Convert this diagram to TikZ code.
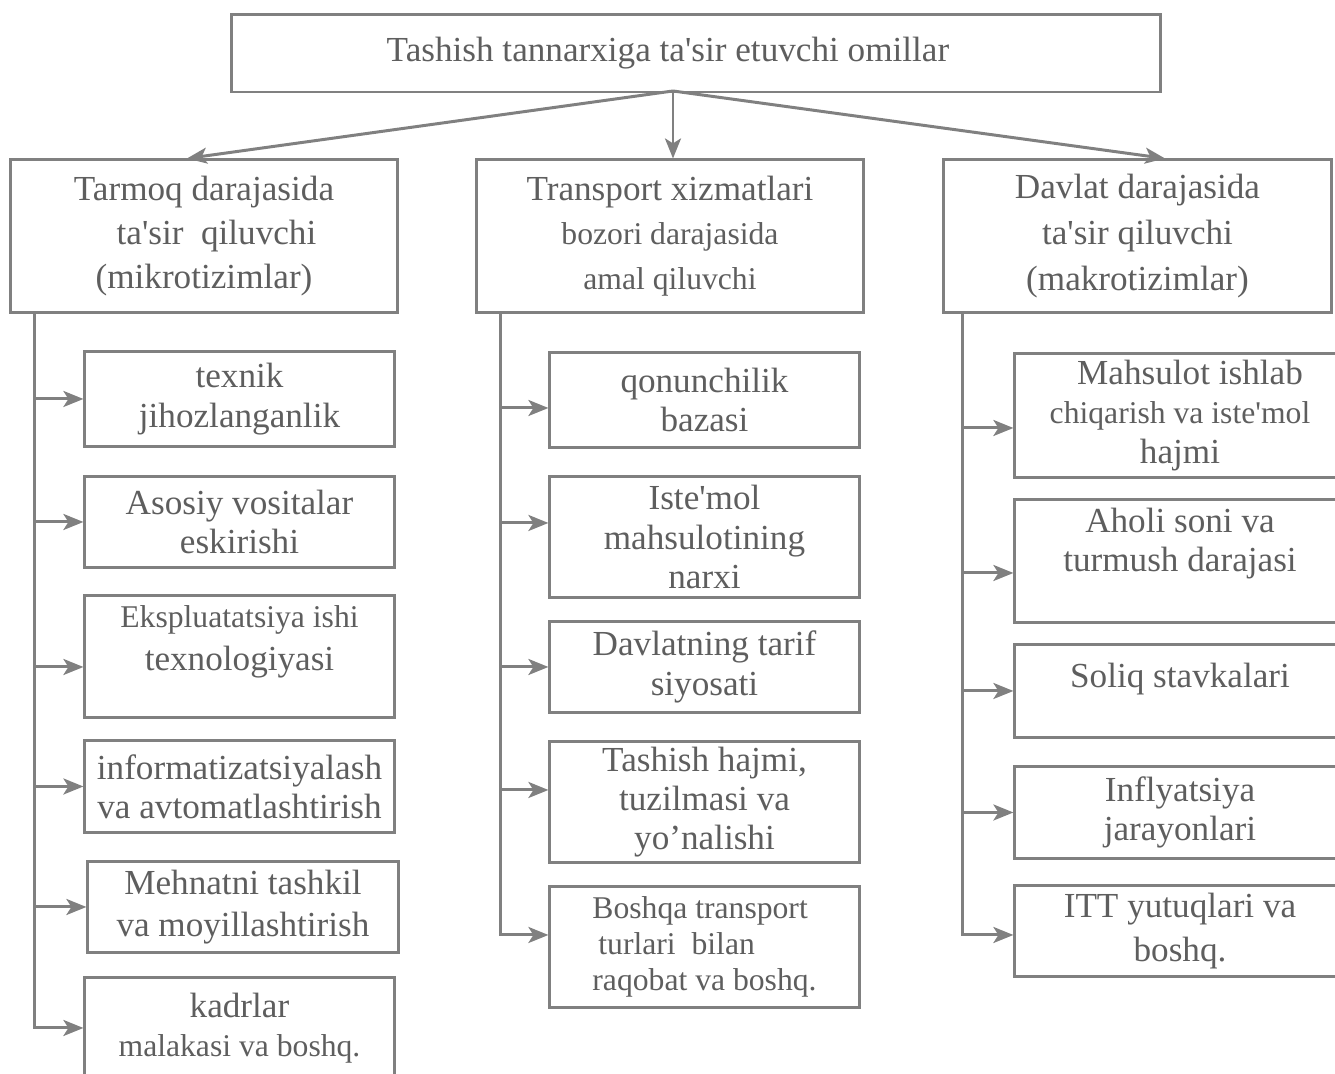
\documentclass[tikz,border=0pt]{standalone}
\usepackage{fontspec}
\setmainfont{Liberation Serif}
\usepackage{tikz}
\usetikzlibrary{arrows.meta}

\definecolor{linegray}{HTML}{808080}
\definecolor{textgray}{HTML}{5E5E5E}

\tikzset{
	box/.style={draw=linegray, line width=0.85pt, rectangle, align=center, text=textgray, inner sep=1pt},
	headbox/.style={box, minimum width=3.87cm, minimum height=1.52cm, font=\fontsize{10}{12.6}\selectfont},
	itembox/.style={box, font=\fontsize{10}{11.2}\selectfont},
	link/.style={linegray, line width=0.85pt, -{Stealth[length=2mm,width=1.6mm,inset=0.5mm]}}
}

\begin{document}
\begin{tikzpicture}[x=0.01cm, y=-0.01cm]
		\useasboundingbox (0,0) rectangle (1335,1074);
		% top
		\node[box, minimum width=9.28cm, minimum height=0.77cm, font=\fontsize{10}{12}\selectfont] (top) at (696,53.5) {Tashish tannarxiga ta\textquotesingle sir etuvchi omillar\hspace{0.56cm}};
		\coordinate (src) at (673,91);
		% three levels
		\node[headbox] (L) at (204,236) {Tarmoq darajasida\\ \hspace{0.25cm}ta\textquotesingle sir\ \ qiluvchi\\ (mikrotizimlar)};
		\node[headbox] (M) at (670,236) {Transport xizmatlari\\ {\fontsize{9}{12.6}\selectfont bozori darajasida}\\ {\fontsize{9}{12.6}\selectfont amal qiluvchi}};
		\node[headbox, font=\fontsize{10}{13.2}\selectfont] (R) at (1137.5,236) {Davlat darajasida\\ ta\textquotesingle sir qiluvchi\\ (makrotizimlar)};
		\draw[link] (src) -- ([xshift=-0.17cm]L.north);
		\draw[link] (src) -- (src |- M.north);
		\draw[link] (src) -- ([xshift=0.275cm]R.north);
		% left column
		\node[itembox, minimum width=3.09cm, minimum height=0.94cm] (l1) at (239.5,399) {texnik\\ jihozlanganlik};
		\node[itembox, minimum width=3.09cm, minimum height=0.90cm] (l2) at (239.5,522) {Asosiy vositalar\\ eskirishi};
		\node[itembox, minimum width=3.09cm, minimum height=1.21cm, text depth=0.37cm, font=\fontsize{10}{12}\selectfont] (l3) at (239.5,656.5) {{\fontsize{9}{12}\selectfont Ekspluatatsiya ishi}\\ texnologiyasi};
		\node[itembox, minimum width=3.09cm, minimum height=0.91cm] (l4) at (239.5,786.5) {informatizatsiyalash\\ va avtomatlashtirish};
		\node[itembox, minimum width=3.10cm, minimum height=0.90cm, font=\fontsize{10}{12}\selectfont] (l5) at (243,907) {Mehnatni tashkil\\ va moyillashtirish};
		\node[itembox, minimum width=3.09cm, minimum height=1.00cm] (l6) at (239.5,1028) {kadrlar\\ {\fontsize{9}{11.2}\selectfont malakasi va boshq.}};
		\coordinate (tl) at ([xshift=0.26cm]L.south west);
		\draw[link] (tl) |- (l1.west);
		\draw[link] (tl) |- (l2.west);
		\draw[link] (tl) |- ([yshift=-0.105cm]l3.west);
		\draw[link] (tl) |- (l4.west);
		\draw[link] (tl) |- (l5.west);
		\draw[link] (tl) |- (l6.west);
		% middle column
		\node[itembox, minimum width=3.09cm, minimum height=0.94cm] (m1) at (704.5,400) {qonunchilik\\ bazasi};
		\node[itembox, minimum width=3.09cm, minimum height=1.20cm] (m2) at (704.5,537) {Iste\textquotesingle mol\\ mahsulotining\\ narxi};
		\node[itembox, minimum width=3.09cm, minimum height=0.90cm] (m3) at (704.5,667) {Davlatning tarif\\ siyosati};
		\node[itembox, minimum width=3.09cm, minimum height=1.20cm] (m4) at (704.5,802) {Tashish hajmi,\\ tuzilmasi va\\ yo'nalishi};
		\node[itembox, minimum width=3.09cm, minimum height=1.20cm, align=left, font=\fontsize{9}{10.3}\selectfont] (m5) at (704.5,947) {Boshqa transport\\ \hspace{0.06cm}turlari\ \ bilan\\ raqobat va boshq.};
		\coordinate (tm) at ([xshift=0.26cm]M.south west);
		\draw[link] (tm) |- ([yshift=-0.08cm]m1.west);
		\draw[link] (tm) |- ([yshift=0.14cm]m2.west);
		\draw[link] (tm) |- (m3.west);
		\draw[link] (tm) |- ([yshift=0.12cm]m4.west);
		\draw[link] (tm) |- ([yshift=0.12cm]m5.west);
		% right column
		\node[itembox, minimum width=3.30cm, minimum height=1.23cm] (r1) at (1180,415.5) {\hspace{0.2cm}Mahsulot ishlab\\ {\fontsize{9}{10.3}\selectfont chiqarish va iste\textquotesingle mol}\\ hajmi};
		\node[itembox, minimum width=3.30cm, minimum height=1.22cm, text depth=0.42cm] (r2) at (1180,561) {Aholi soni va\\ turmush darajasi};
		\node[itembox, minimum width=3.30cm, minimum height=0.92cm, text depth=0.31cm] (r3) at (1180,691) {Soliq stavkalari};
		\node[itembox, minimum width=3.30cm, minimum height=0.91cm] (r4) at (1180,812.5) {Inflyatsiya\\ jarayonlari};
		\node[itembox, minimum width=3.30cm, minimum height=0.90cm, font=\fontsize{10}{12.4}\selectfont] (r5) at (1180,931) {ITT yutuqlari va\\ boshq.};
		\coordinate (tr) at ([xshift=0.20cm]R.south west);
		\draw[link] (tr) |- ([yshift=-0.125cm]r1.west);
		\draw[link] (tr) |- ([yshift=-0.12cm]r2.west);
		\draw[link] (tr) |- (r3.west);
		\draw[link] (tr) |- (r4.west);
		\draw[link] (tr) |- ([yshift=-0.04cm]r5.west);
	\end{tikzpicture}
\end{document}
